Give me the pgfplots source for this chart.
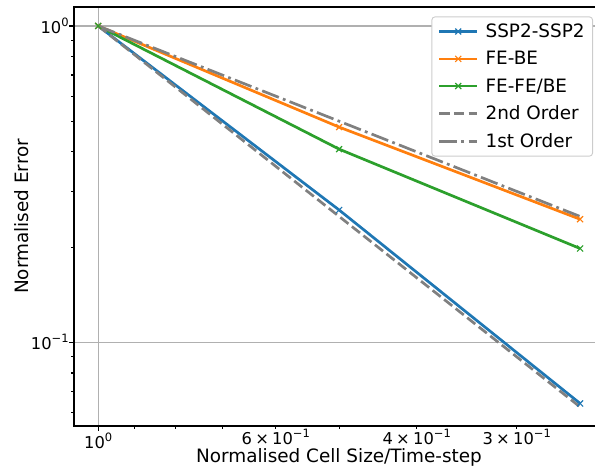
\documentclass[border=0pt]{standalone}
\usepackage{fontspec}
\setmainfont{DejaVu Sans}
\usepackage{pgfplots}
\pgfplotsset{compat=1.18}
\newcommand{\sups}[1]{\raisebox{0.42em}{\fontsize{11.5}{12}\selectfont #1}}
\newcommand{\tm}{\kern0.2em×\kern0.2em}
\definecolor{c0}{HTML}{1F77B4}
\definecolor{c1}{HTML}{FF7F0E}
\definecolor{c2}{HTML}{2CA02C}
\definecolor{gr}{HTML}{808080}
\definecolor{gridc}{HTML}{B0B0B0}
\begin{document}
\begin{tikzpicture}
\begin{axis}[
  at={(74pt,44pt)}, anchor=south west,
  scale only axis, width=530pt, height=419pt,
  xmode=log, ymode=log, x dir=reverse,
  xmin=0.2334, xmax=1.072, ymin=0.0544, ymax=1.148,
  xtick={1},
  xticklabels={10\sups{0}},
  extra x ticks={0.6,0.4,0.3},
  extra x tick labels={6\tm10\sups{−1}, 4\tm10\sups{−1}, 3\tm10\sups{−1}},
  extra x tick style={grid=none, major tick length=2.8pt, xticklabel style={yshift=2pt}},
  minor xtick={0.9,0.8,0.7,0.5},
  ytick={1,0.1},
  yticklabels={10\sups{0},10\sups{−1}},
  minor ytick={0.06,0.07,0.08,0.09,0.2,0.3,0.4,0.5,0.6,0.7,0.8,0.9},
  tick align=outside, tick pos=left,
  major tick length=4.9pt, minor tick length=2.8pt,
  every tick/.style={black, line width=1.1pt},
  axis line style={line width=1.1pt},
  grid=major, major grid style={color=gridc, line width=1.1pt},
  tick label style={font=\fontsize{16.3}{19}\selectfont},
  yticklabel style={xshift=3pt},
  xticklabel style={yshift=1pt},
  xlabel={Normalised Cell Size/Time-step},
  ylabel={Normalised Error},
  every axis x label/.style={at={(axis description cs:0.5,-0.076)}, anchor=center, font=\fontsize{18.4}{22}\selectfont},
  every axis y label/.style={at={(axis description cs:-0.098,0.5)}, anchor=center, rotate=90, font=\fontsize{18.4}{22}\selectfont},
  legend style={at={(1,1)}, anchor=north east, xshift=-11pt, yshift=-9.5pt,
    draw=black!20, line width=0.9pt, rounded corners=3pt, fill=white,
    font=\fontsize{18.4}{22}\selectfont, row sep=8.3pt, inner xsep=6pt, inner ysep=5pt,
    /tikz/every odd column/.append style={column sep=5pt}},
  legend cell align=left,
  legend image code/.code={\draw[mark repeat=2,mark phase=2] plot coordinates {(0pt,0pt) (19pt,0pt) (38pt,0pt)};},
]
\addplot[c0, line width=2.7pt, mark=x, mark size=4.2pt, mark options={line width=1.2pt}] coordinates {(1,1) (0.5,0.262) (0.25,0.0641)};
\addlegendentry{SSP2-SSP2}
\addplot[c1, line width=2.7pt, mark=x, mark size=4.2pt, mark options={line width=1.2pt}] coordinates {(1,1) (0.5,0.479) (0.25,0.245)};
\addlegendentry{FE-BE}
\addplot[c2, line width=2.7pt, mark=x, mark size=4.2pt, mark options={line width=1.2pt}] coordinates {(1,1) (0.5,0.408) (0.25,0.198)};
\addlegendentry{FE-FE/BE}
\addplot[gr, line width=2.7pt, dash pattern=on 10.3pt off 4.4pt] coordinates {(1,1) (0.5,0.25) (0.25,0.0625)};
\addlegendentry{2nd Order}
\addplot[gr, line width=2.7pt, dash pattern=on 17.8pt off 4.4pt on 2.8pt off 4.4pt] coordinates {(1,1) (0.5,0.5) (0.25,0.25)};
\addlegendentry{1st Order}
\end{axis}
\pgfresetboundingbox
\useasboundingbox (0,0) rectangle (595pt,470pt);
\end{tikzpicture}
\end{document}
